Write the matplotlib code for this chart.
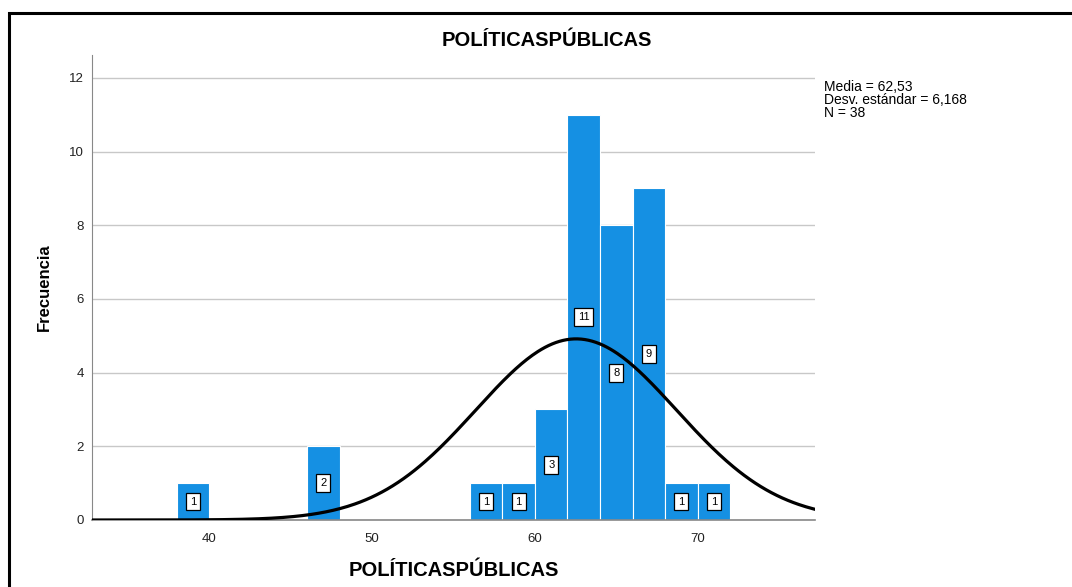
import numpy as np
import matplotlib.pyplot as plt
from matplotlib.patches import Rectangle

plt.rcParams['font.family'] = ['Liberation Sans', 'DejaVu Sans']

# datos del histograma (ancho de clase = 2)
bordes_izq = [38, 46, 56, 58, 60, 62, 64, 66, 68, 70]
frecuencias = [1, 2, 1, 1, 3, 11, 8, 9, 1, 1]
ancho = 2
media = 62.53
desv = 6.168
n = 38

W, H = 1072, 587
fig = plt.figure(figsize=(W / 100, H / 100), dpi=100)

# marco negro alrededor
fig.patches.append(Rectangle((9 / W, -0.1), 1.2, 1 - 13 / H + 0.1, transform=fig.transFigure,
                             fill=False, edgecolor='black', linewidth=2.2))

ax = fig.add_axes([92 / W, 1 - 520 / H, (815 - 92) / W, (520 - 55) / H])

ax.bar(bordes_izq, frecuencias, width=ancho, align='edge', color='#1590e3',
       edgecolor='white', linewidth=0.8, zorder=2)

for x0, f in zip(bordes_izq, frecuencias):
    ax.text(x0 + ancho / 2, f / 2, str(f), ha='center', va='center', fontsize=8,
            zorder=4, bbox=dict(boxstyle='square,pad=0.35', fc='white', ec='black', lw=0.9))

xs = np.linspace(32.8, 77.2, 400)
ys = n * ancho / (desv * np.sqrt(2 * np.pi)) * np.exp(-0.5 * ((xs - media) / desv) ** 2)
ax.plot(xs, ys, color='black', linewidth=2.3, zorder=3)

ax.set_xlim(32.8, 77.2)
ax.set_ylim(0, 12.62)
ax.set_yticks([0, 2, 4, 6, 8, 10, 12])
ax.set_xticks([40, 50, 60, 70])
ax.yaxis.grid(True, color='#c8c8c8', linewidth=1)
ax.set_axisbelow(True)
ax.tick_params(length=0, labelsize=9.5, colors='#222222', pad=6)
ax.tick_params(axis='x', pad=9)

for s in ['top', 'right']:
    ax.spines[s].set_visible(False)
ax.spines['left'].set_color('#888888')
ax.spines['bottom'].set_color('#888888')
ax.spines['bottom'].set_linewidth(1.2)

ax.set_xlabel('POLÍTICASPÚBLICAS', fontsize=14.5, fontweight='bold', labelpad=12)
ax.set_ylabel('Frecuencia', fontsize=12, fontweight='bold', labelpad=12)

fig.text(547 / W, 1 - 40 / H, 'POLÍTICASPÚBLICAS', ha='center', va='center',
         fontsize=14.5, fontweight='bold')

fig.text(824 / W, 1 - 80 / H, f'Media = 62,53\nDesv. estándar = 6,168\nN = {n}',
         ha='left', va='top', fontsize=10, linespacing=0.9)

fig.savefig('out.png', dpi=100)
